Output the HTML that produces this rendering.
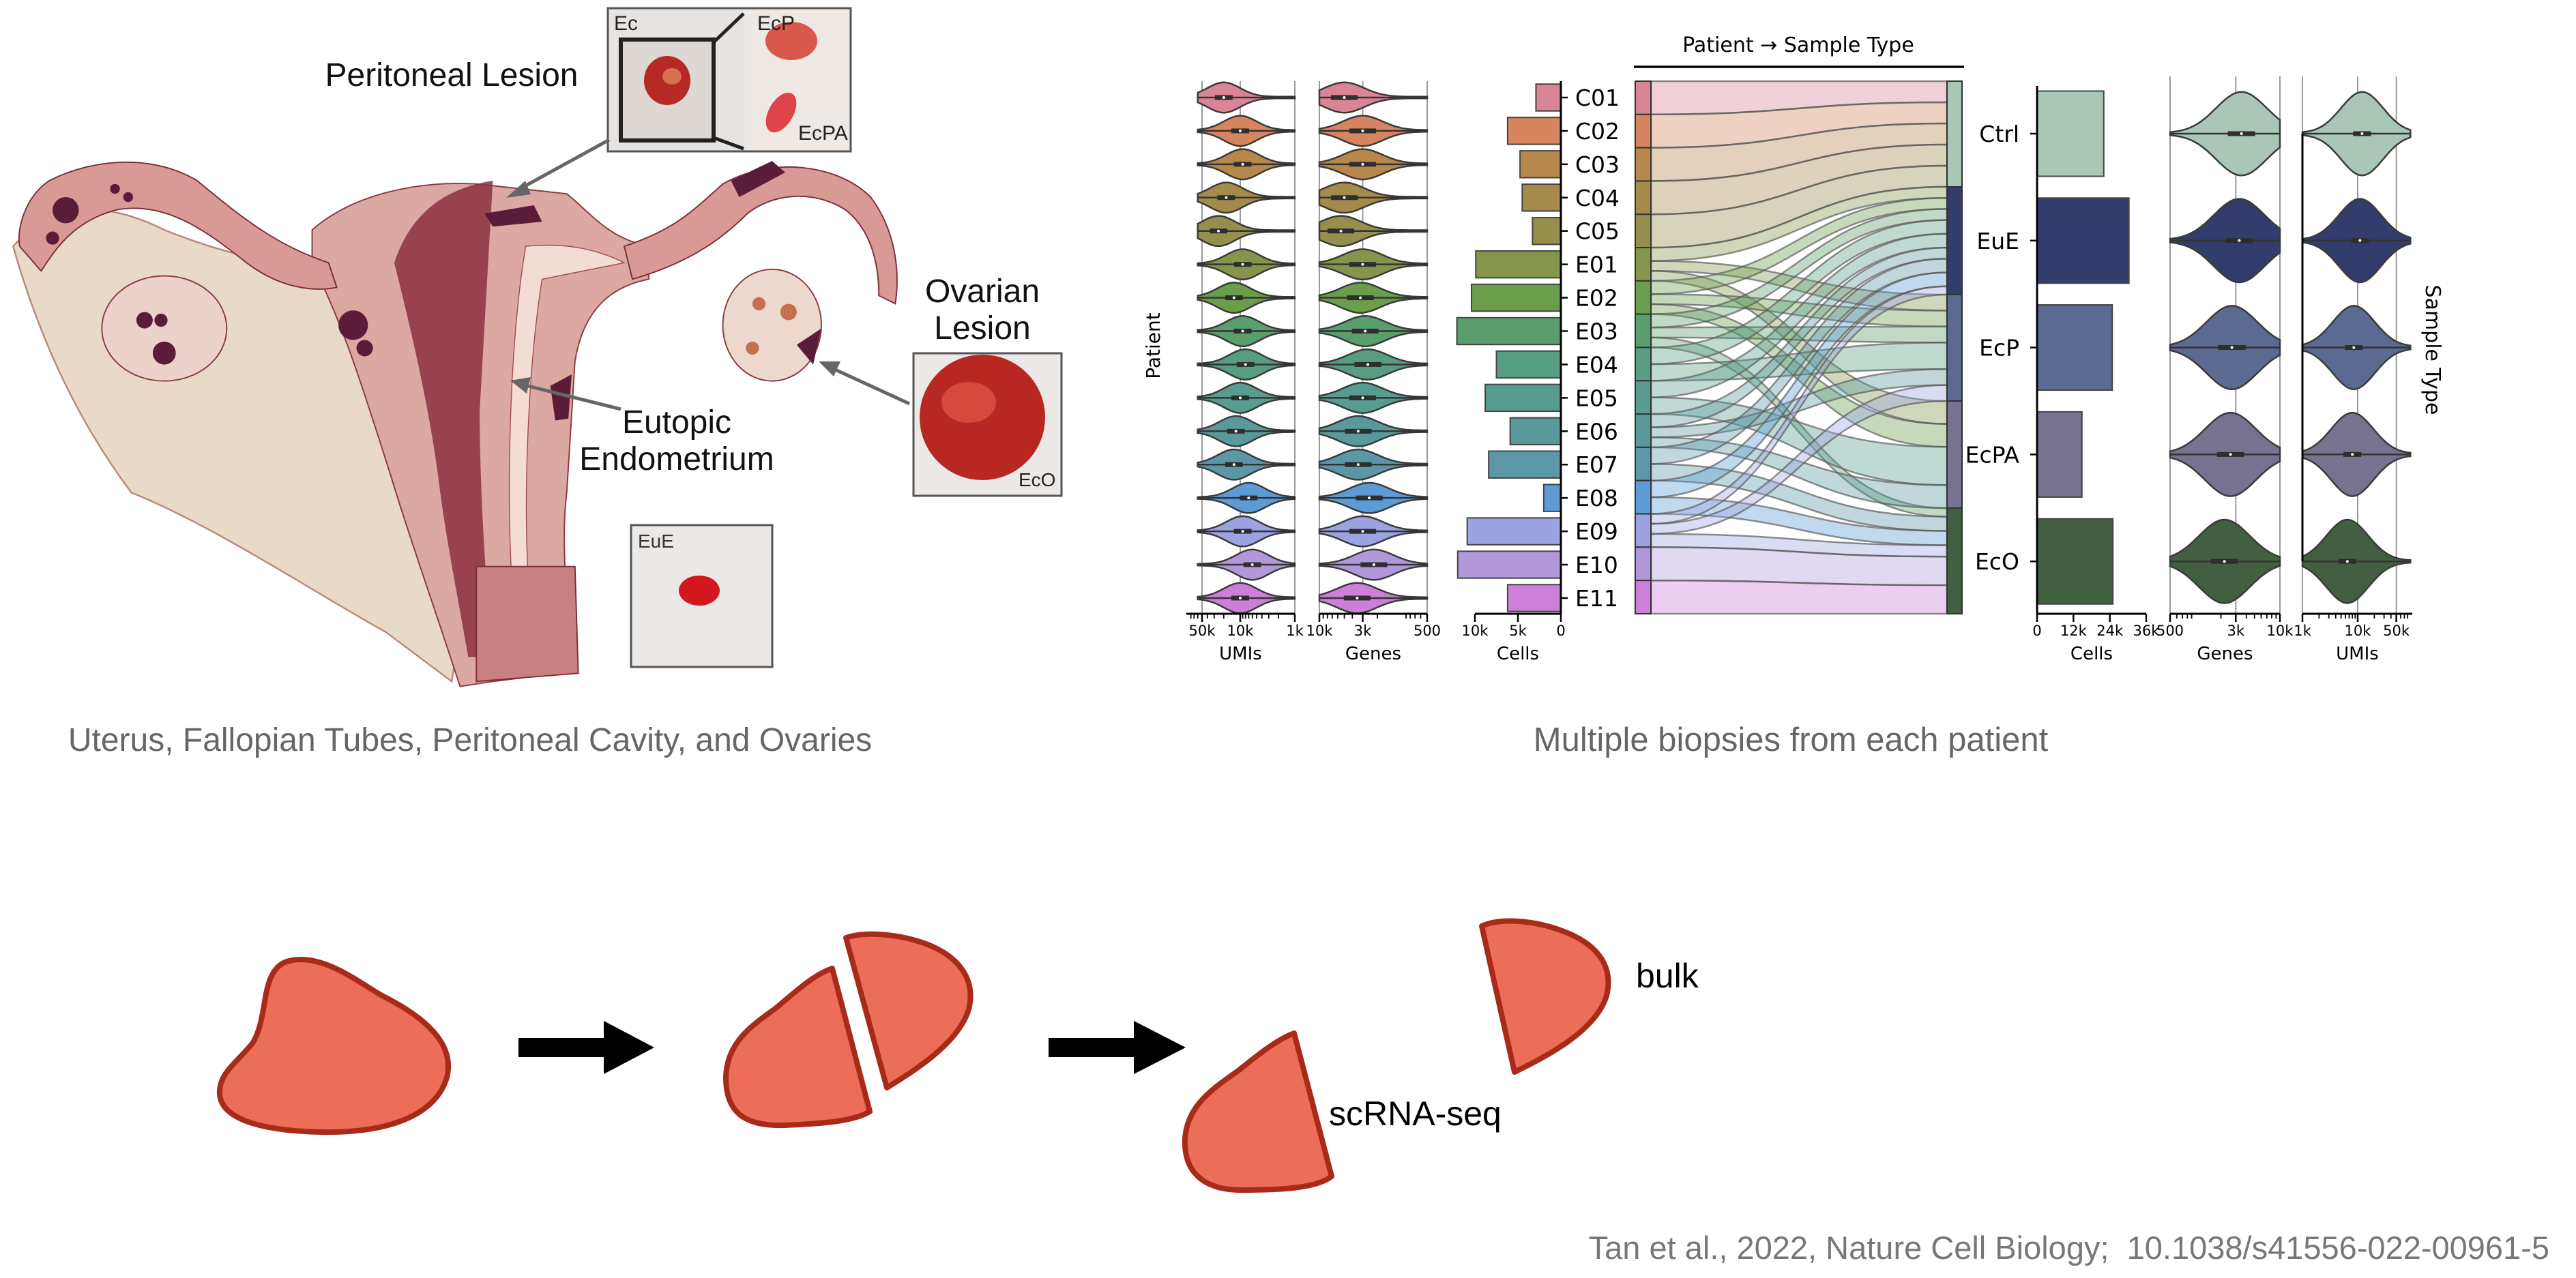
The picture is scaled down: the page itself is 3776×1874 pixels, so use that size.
<!DOCTYPE html>
<html><head><meta charset="utf-8"><title>Endometriosis scRNA-seq overview</title>
<style>
html,body{margin:0;padding:0;background:#fff;}
svg{display:block;}
.lbl{font-family:"Liberation Sans",sans-serif;}
.ch{font-family:"DejaVu Sans","Liberation Sans",sans-serif;}
</style></head>
<body>
<svg id="root" xmlns="http://www.w3.org/2000/svg" width="3776" height="1874" viewBox="0 0 3776 1874">
<rect x="0" y="0" width="3776" height="1874" fill="#fff"/>

<!-- Anatomy illustration (display coords scaled) -->
<g transform="scale(2.408)">
  <path d="M8 150 C30 125 60 120 100 140 C150 160 190 165 215 160 L300 160 L300 250 L275 415 L235 385 C190 360 130 320 80 300 C50 260 25 210 8 150 Z" fill="#e8dac6" stroke="#b8887a" stroke-width="1"/>
  <path d="M190 140 C215 118 255 110 290 112 L345 118 C360 130 370 145 395 150 L395 170 C370 175 355 190 350 220 L345 300 C340 340 350 380 340 410 L300 415 L280 418 C268 380 250 330 238 290 C222 240 210 200 190 160 Z" fill="#dba8a2" stroke="#8a3a40" stroke-width="0.8"/>
  <path d="M240 160 C250 200 262 250 268 300 C272 330 278 360 285 400 L300 400 C296 360 292 300 292 250 L300 110 C270 115 250 130 240 160 Z" fill="#8c3040" opacity="0.85"/>
  <path d="M320 150 C340 148 360 150 380 160 L330 170 C322 220 318 300 322 360 L312 362 C308 300 310 210 320 150 Z" fill="#f3dcd2" stroke="#a05050" stroke-width="0.6"/>
  <path d="M290 345 L350 345 L352 410 L290 415 Z" fill="#c88080" stroke="#7a2e38" stroke-width="0.8"/>
  <path d="M200 160 C170 150 150 135 120 110 C95 95 60 95 30 110 C15 120 10 140 12 150 L25 165 C35 150 45 135 70 128 C100 122 125 140 150 160 C170 175 190 178 205 175 Z" fill="#d99a96" stroke="#7a2e38" stroke-width="0.8"/>
  <ellipse cx="100" cy="200" rx="38" ry="32" fill="#ecd2cb" stroke="#8a3a40" stroke-width="0.8"/>
  <path d="M380 150 C410 140 420 130 440 112 C470 95 510 100 530 120 C545 140 548 165 545 185 L535 180 C535 160 530 140 515 128 C495 115 470 118 455 130 C440 145 420 160 385 170 Z" fill="#d99a96" stroke="#7a2e38" stroke-width="0.8"/>
  <ellipse cx="470" cy="198" rx="30" ry="34" fill="#ecd8cc" stroke="#8a3a40" stroke-width="0.8"/>
  <g fill="#5a1c38">
    <circle cx="40" cy="128" r="8"/><circle cx="32" cy="145" r="4"/><circle cx="70" cy="115" r="3"/><circle cx="78" cy="120" r="3"/>
    <circle cx="88" cy="195" r="5"/><circle cx="100" cy="215" r="7"/><circle cx="98" cy="195" r="4"/>
    <circle cx="215" cy="198" r="9"/><circle cx="222" cy="212" r="5"/>
    <path d="M295 130 L325 125 L330 135 L300 138 Z"/>
    <path d="M445 110 L470 98 L478 105 L450 120 Z"/>
    <path d="M485 210 L500 200 L495 222 Z"/>
    <path d="M335 235 L348 228 L346 255 L338 256 Z"/>
  </g>
  <g fill="#c47050">
    <circle cx="462" cy="185" r="4"/><circle cx="480" cy="190" r="5"/><circle cx="458" cy="212" r="4"/>
  </g>
</g>

<!-- Photos -->
<g>
  <rect x="891" y="12" width="356" height="210" fill="#e6e3e0" stroke="#555" stroke-width="3"/>
  <rect x="1091" y="14" width="154" height="206" fill="#efe9e6"/>
  <rect x="910" y="58" width="136" height="148" fill="#ddd8d4" stroke="#222" stroke-width="6"/>
  <ellipse cx="978" cy="118" rx="34" ry="36" fill="#b52a25"/>
  <ellipse cx="985" cy="112" rx="14" ry="12" fill="#d8704f"/>
  <line x1="1046" y1="62" x2="1090" y2="20" stroke="#222" stroke-width="5"/>
  <line x1="1046" y1="202" x2="1090" y2="218" stroke="#222" stroke-width="5"/>
  <ellipse cx="1160" cy="60" rx="38" ry="28" fill="#d9584a"/>
  <ellipse cx="1145" cy="165" rx="18" ry="32" fill="#e0434a" transform="rotate(30 1145 165)"/>
  <text class="lbl" x="900" y="44" font-size="30" fill="#222">Ec</text>
  <text class="lbl" x="1110" y="44" font-size="30" fill="#222">EcP</text>
  <text class="lbl" x="1170" y="205" font-size="30" fill="#222">EcPA</text>
</g>
<g>
  <rect x="1339" y="518" width="217" height="209" fill="#ebe8e6" stroke="#555" stroke-width="3"/>
  <ellipse cx="1440" cy="612" rx="92" ry="92" fill="#b82722"/>
  <ellipse cx="1420" cy="590" rx="40" ry="30" fill="#d54a3a"/>
  <text class="lbl" x="1493" y="713" font-size="28" fill="#222">EcO</text>
</g>
<g>
  <rect x="925" y="770" width="207" height="208" fill="#ebe8e6" stroke="#555" stroke-width="3"/>
  <ellipse cx="1025" cy="866" rx="30" ry="22" fill="#d2171e"/>
  <text class="lbl" x="935" y="803" font-size="28" fill="#333">EuE</text>
</g>

<!-- Annotation arrows -->
<g stroke="#666" stroke-width="5" fill="#666">
  <line x1="893" y1="205" x2="760" y2="278"/><polygon points="742,290 770,265 778,285" stroke="none"/>
  <line x1="1333" y1="592" x2="1220" y2="540"/><polygon points="1200,530 1232,530 1222,552" stroke="none"/>
  <line x1="910" y1="600" x2="770" y2="565"/><polygon points="748,558 778,553 772,577" stroke="none"/>
</g>
<text class="lbl" x="662" y="126" font-size="48" text-anchor="middle" fill="#111">Peritoneal Lesion</text>
<text class="lbl" x="1440" y="443" font-size="48" text-anchor="middle" fill="#111">Ovarian</text>
<text class="lbl" x="1440" y="497" font-size="48" text-anchor="middle" fill="#111">Lesion</text>
<text class="lbl" x="992" y="635" font-size="48" text-anchor="middle" fill="#111">Eutopic</text>
<text class="lbl" x="992" y="689" font-size="48" text-anchor="middle" fill="#111">Endometrium</text>
<text class="lbl" x="689" y="1101" font-size="48" text-anchor="middle" fill="#666">Uterus, Fallopian Tubes, Peritoneal Cavity, and Ovaries</text>
<text class="lbl" x="2625" y="1101" font-size="49" text-anchor="middle" fill="#666">Multiple biopsies from each patient</text>
<text class="lbl" x="3737" y="1846" font-size="47" text-anchor="end" fill="#777" xml:space="preserve">Tan et al., 2022, Nature Cell Biology;  10.1038/s41556-022-00961-5</text>

<!-- Bottom tissue schematic -->
<g fill="#ec6e58" stroke="#a82a18" stroke-width="8" stroke-linejoin="round">
  <path d="M420 1410 C470 1395 525 1440 560 1460 C640 1500 665 1540 655 1580 C640 1630 580 1662 470 1660 C380 1658 325 1640 322 1605 C320 1575 345 1560 370 1530 C395 1490 380 1425 420 1410 Z"/>
  <path d="M1220 1420 C1190 1430 1160 1460 1135 1480 C1100 1505 1065 1530 1064 1580 C1064 1630 1090 1652 1150 1650 C1200 1648 1250 1645 1275 1630 Z"/>
  <path d="M1240 1375 C1270 1365 1320 1370 1360 1385 C1410 1405 1430 1440 1420 1480 C1405 1530 1340 1570 1300 1595 Z"/>
  <path d="M1897 1515 C1870 1525 1840 1550 1815 1570 C1780 1595 1740 1620 1737 1670 C1735 1715 1760 1745 1820 1745 C1880 1745 1930 1742 1952 1725 Z"/>
  <path d="M2172 1358 C2200 1345 2250 1350 2290 1365 C2345 1385 2365 1420 2355 1460 C2340 1510 2270 1548 2220 1572 Z"/>
</g>
<g fill="#000">
  <polygon points="760,1522 885,1522 885,1497 959,1536 885,1575 885,1550 760,1550"/>
  <polygon points="1537,1522 1662,1522 1662,1497 1738,1536 1662,1575 1662,1550 1537,1550"/>
</g>
<text class="lbl" x="2398" y="1448" font-size="50" fill="#000">bulk</text>
<text class="lbl" x="1948" y="1650" font-size="50" fill="#000">scRNA-seq</text>

<g id="chart"></g>
</svg>

<script>
// ---------- data ----------
const patients = ["C01","C02","C03","C04","C05","E01","E02","E03","E04","E05","E06","E07","E08","E09","E10","E11"];
const patientColors = ["#d98497","#d6855e","#b8874c","#a58b4b","#958f4c","#85954b","#6a9e4b","#5a9e6d","#579d82","#589b8f","#5a999a","#5c97a8","#5d9bd6","#9ca3e0","#b198da","#cc80d8"];
const patientCells = [2900,6200,4750,4500,3300,9900,10400,12100,7500,8800,5900,8400,2000,10900,12000,6200];
const patientUmiMedian = [20000,10000,9000,18000,25000,9000,13000,9000,8000,10000,12000,13000,7000,9000,6000,10000];
const patientGeneMedian = [5000,3000,3000,5000,5500,3000,3200,2800,2600,3000,3400,3400,2500,3000,2200,3500];
const sampleTypes = ["Ctrl","EuE","EcP","EcPA","EcO"];
const typeColors = ["#a9c6b7","#343c6c","#5a6a90","#76728f","#435f42"];
const typeCells = [22000,30300,24800,14800,25000];
const typeGeneMedian = [3500,3300,2700,2600,2200];
const typeUmiMedian = [12000,11000,8500,8000,6500];
// flows: patient index, sample type index, weight
const flowPatient = [0,1,2,3,4, 5,5,5, 6,6,6, 7,7,7, 8,8, 9,9, 10,10,10, 11,11, 12,12, 13,13,13, 14, 15];
const flowType    = [0,0,0,0,0, 1,2,3, 1,2,3, 1,2,4, 1,2, 1,3, 1,2,3, 1,4, 1,4, 1,2,4, 4, 4];
const flowWeight  = [1,1,1,1,1, .4,.3,.3, .4,.3,.3, .4,.3,.3, .5,.5, .5,.5, .4,.3,.3, .5,.5, .5,.5, .3,.3,.4, 1, 1];
const umiTicks = [50000,10000,1000];
const umiTickLabels = ["50k","10k","1k"];
const geneTicks = [10000,3000,500];
const geneTickLabels = ["10k","3k","500"];
const cellTicks = [10000,5000,0];
const cellTickLabels = ["10k","5k","0"];
const typeCellTicks = [0,12000,24000,36000];
const typeCellTickLabels = ["0","12k","24k","36k"];
const typeGeneTicks = [500,3000,10000];
const typeGeneTickLabels = ["500","3k","10k"];
const typeUmiTicks = [1000,10000,50000];
const typeUmiTickLabels = ["1k","10k","50k"];

// ---------- helpers ----------
const NS="http://www.w3.org/2000/svg";
const chart=document.getElementById('chart');
function mk(tag,attrs,parent){const e=document.createElementNS(NS,tag);for(const k in attrs)e.setAttribute(k,attrs[k]);(parent||chart).appendChild(e);return e;}
function txt(x,y,s,size,anchor,parent,extra){const t=mk('text',Object.assign({x:x,y:y,'font-size':size,'text-anchor':anchor||'middle',fill:'#000','class':'ch'},extra||{}),parent);t.textContent=s;return t;}
const L=Math.log10;

// axis functions
const rowY = i => 143 + i*48.93;
const umiX = v => 1898 - (L(v)-3)/(L(50000)-3)*136;
const geneX = v => 2092 - (L(v)-L(500))/(L(10000)-L(500))*158;
const cellX = v => 2288 - v/10000*126;
const typeY = i => 196 + i*156.8;
const tCellX = v => 2986 + v/36000*160;
const tGeneX = v => 3181 + (L(v)-L(500))/(L(10000)-L(500))*161;
const tUmiX = v => 3375 + (L(v)-3)*81;

function violin(parent, xf, lo, hi, med, cy, H, sd, color, name){
  const g=mk('g',{},parent);
  
  
  const n=60, top=[], bot=[];
  const a=L(lo), b=L(hi), m=L(med);
  for(let k=0;k<=n;k++){
    const t=a+(b-a)*k/n;
    const z=(t-m)/sd;
    const w=H*Math.exp(-z*z/2)+1.2;
    const x=xf(Math.pow(10,t));
    top.push([x,cy-w]);bot.push([x,cy+w]);
  }
  let d='M'+top.map(p=>p[0].toFixed(1)+' '+p[1].toFixed(1)).join(' L')+' L'+bot.reverse().map(p=>p[0].toFixed(1)+' '+p[1].toFixed(1)).join(' L')+' Z';
  mk('path',{d:d,fill:color,stroke:'#3a3a3a','stroke-width':2.5},g);
  mk('line',{x1:xf(lo),x2:xf(hi),y1:cy,y2:cy,stroke:'#333','stroke-width':2.5},g);
  const q1=xf(med/1.45), q3=xf(med*1.45);
  mk('rect',{x:Math.min(q1,q3),y:cy-3.5,width:Math.abs(q3-q1),height:7,fill:'#2e2e2e'},g);
  mk('circle',{cx:xf(med),cy:cy,r:2,fill:'#fff'},g);
}

function bottomAxis(x0,x1,ticks,labels,xf,title,parent,minor){
  const y=900;
  mk('line',{x1:x0,x2:x1,y1:y,y2:y,stroke:'#000','stroke-width':3},parent);
  ticks.forEach((t,i)=>{
    mk('line',{x1:xf(t),x2:xf(t),y1:y,y2:y+12,stroke:'#000','stroke-width':2.5},parent);
    txt(xf(t),y+32,labels[i],21,'middle',parent);
  });
  (minor||[]).forEach(t=>mk('line',{x1:xf(t),x2:xf(t),y1:y,y2:y+7,stroke:'#000','stroke-width':1.8},parent));
  txt((x0+x1)/2,y+67,title,26,'middle',parent);
}
function logMinor(lo,hi){const out=[];for(let e=Math.floor(L(lo));e<=Math.ceil(L(hi));e++){for(let k=2;k<=9;k++){const v=k*Math.pow(10,e);if(v>lo&&v<hi)out.push(v);}}return out;}

// ---------- left: UMIs violins ----------
const gU=mk('g',{});


umiTicks.forEach(t=>mk('line',{x1:umiX(t),x2:umiX(t),y1:119,y2:900,stroke:'#999','stroke-width':2},gU));
patients.forEach((p,i)=>violin(gU,umiX,60000,1000,patientUmiMedian[i],rowY(i),21,0.3,patientColors[i],'umi-violin-'+p.toLowerCase()));
bottomAxis(1739,1898,umiTicks,umiTickLabels,umiX,'UMIs',gU,logMinor(1000,90000).filter(v=>umiX(v)>=1739));

// ---------- left: Genes violins ----------
const gG=mk('g',{});


geneTicks.forEach(t=>mk('line',{x1:geneX(t),x2:geneX(t),y1:119,y2:900,stroke:'#999','stroke-width':2},gG));
patients.forEach((p,i)=>violin(gG,geneX,10000,500,patientGeneMedian[i],rowY(i),21,0.24,patientColors[i],'gene-violin-'+p.toLowerCase()));
bottomAxis(1934,2092,geneTicks,geneTickLabels,geneX,'Genes',gG,logMinor(500,10000));

// ---------- left: cells bars ----------
const gC=mk('g',{});


patients.forEach((p,i)=>{
  const r=mk('rect',{x:cellX(patientCells[i]),y:rowY(i)-19.7,width:cellX(0)-cellX(patientCells[i]),height:39.4,fill:patientColors[i],stroke:'#444','stroke-width':2},gC);
  
  
  mk('line',{x1:2288,x2:2298,y1:rowY(i),y2:rowY(i),stroke:'#000','stroke-width':2.5},gC);
  const t=txt(2309,rowY(i)+12,p,33,'start',gC);
  
  
});
mk('line',{x1:2288,x2:2288,y1:119,y2:900,stroke:'#000','stroke-width':3},gC);
bottomAxis(2162,2288,cellTicks,cellTickLabels,cellX,'Cells',gC);
const yl=txt(1700,507,'Patient',28,'middle',chart,{transform:'rotate(-90 1700 507)'});



// ---------- sankey ----------
const gS=mk('g',{});


const st=txt(2636,76,'Patient \u2192 Sample Type',30,'middle',gS);


mk('line',{x1:2395,x2:2879,y1:98,y2:98,stroke:'#000','stroke-width':3.5},gS);
const typeBounds=[119,274,432,588,745,900];
const pTot=patients.map((_,i)=>flowWeight.reduce((s,w,k)=>s+(flowPatient[k]===i?w:0),0));
const tTot=sampleTypes.map((_,j)=>flowWeight.reduce((s,w,k)=>s+(flowType[k]===j?w:0),0));
const pCur=patients.map((_,i)=>119+i*48.81);
const tCur=typeBounds.slice(0,5);
const xL=2420,xR=2854,xm=(xL+xR)/2;
const order=flowWeight.map((_,k)=>k).sort((a,b)=>flowPatient[a]-flowPatient[b]||flowType[a]-flowType[b]);
const ribbons=[];
order.forEach(k=>{
  const i=flowPatient[k];
  const hl=48.81*flowWeight[k]/pTot[i];
  ribbons[k]={l0:pCur[i],l1:pCur[i]+hl};
  pCur[i]+=hl;
});
flowWeight.map((_,k)=>k).sort((a,b)=>flowType[a]-flowType[b]||flowPatient[a]-flowPatient[b]).forEach(k=>{
  const j=flowType[k];
  const hr=(typeBounds[j+1]-typeBounds[j])*flowWeight[k]/tTot[j];
  ribbons[k].r0=tCur[j];ribbons[k].r1=tCur[j]+hr;tCur[j]+=hr;
});
ribbons.forEach((r,k)=>{
  const d=`M${xL} ${r.l0} C${xm} ${r.l0} ${xm} ${r.r0} ${xR} ${r.r0} L${xR} ${r.r1} C${xm} ${r.r1} ${xm} ${r.l1} ${xL} ${r.l1} Z`;
  const p=mk('path',{d:d,fill:patientColors[flowPatient[k]],'fill-opacity':0.38,stroke:'#555','stroke-opacity':0.65,'stroke-width':2.5},gS);
  
  
});
patients.forEach((p,i)=>{
  const r=mk('rect',{x:2397,y:119+i*48.81,width:23,height:48.81,fill:patientColors[i],stroke:'#333','stroke-width':2},gS);
  
  
});
sampleTypes.forEach((s,j)=>{
  const r=mk('rect',{x:2854,y:typeBounds[j],width:22,height:typeBounds[j+1]-typeBounds[j],fill:typeColors[j],stroke:'#333','stroke-width':2},gS);
  
  
});

// ---------- right: type cells bars ----------
const gT=mk('g',{});


sampleTypes.forEach((s,j)=>{
  const r=mk('rect',{x:2986,y:typeY(j)-62.5,width:tCellX(typeCells[j])-2986,height:125,fill:typeColors[j],stroke:'#444','stroke-width':2},gT);
  
  
  mk('line',{x1:2976,x2:2986,y1:typeY(j),y2:typeY(j),stroke:'#000','stroke-width':2.5},gT);
  const t=txt(2960,typeY(j)+12,s,33,'end',gT);
  
  
});
mk('line',{x1:2986,x2:2986,y1:126,y2:900,stroke:'#000','stroke-width':3},gT);
bottomAxis(2986,3146,typeCellTicks,typeCellTickLabels,tCellX,'Cells',gT);

const gTG=mk('g',{});


typeGeneTicks.forEach(t=>mk('line',{x1:tGeneX(t),x2:tGeneX(t),y1:112,y2:900,stroke:'#999','stroke-width':2},gTG));
sampleTypes.forEach((s,j)=>violin(gTG,tGeneX,500,10000,typeGeneMedian[j],typeY(j),60,0.3,typeColors[j],'gene-violin-'+s.toLowerCase()));
bottomAxis(3181,3342,typeGeneTicks,typeGeneTickLabels,tGeneX,'Genes',gTG,logMinor(500,10000));

const gTU=mk('g',{});


typeUmiTicks.forEach(t=>mk('line',{x1:tUmiX(t),x2:tUmiX(t),y1:112,y2:900,stroke:'#999','stroke-width':2},gTU));
sampleTypes.forEach((s,j)=>violin(gTU,tUmiX,1000,90000,typeUmiMedian[j],typeY(j),60,0.38,typeColors[j],'umi-violin-'+s.toLowerCase()));
mk('line',{x1:3375,x2:3375,y1:typeY(0),y2:typeY(4),stroke:'#000','stroke-width':3},gTU);
bottomAxis(3375,3536,typeUmiTicks,typeUmiTickLabels,tUmiX,'UMIs',gTU,logMinor(1000,90000));
const sl=txt(3556,513,'Sample Type',30,'middle',chart,{transform:'rotate(90 3556 513)'});


</script>
</body></html>
